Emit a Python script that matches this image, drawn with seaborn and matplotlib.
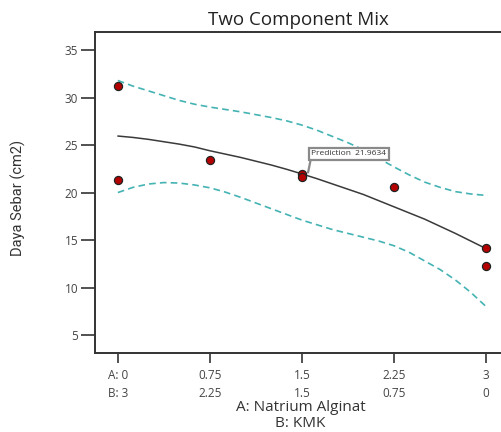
import matplotlib
matplotlib.use("Agg")
import matplotlib.pyplot as plt
import seaborn as sns
import pandas as pd

# ---- data ----
obs_a = [0, 0, 0.75, 1.5, 1.5, 2.25, 3, 3]
obs_y = [31.2, 21.3, 23.4, 22.0, 21.6, 20.6, 14.2, 12.3]

curve_a = [0, 0.125, 0.25, 0.375, 0.5, 0.625, 0.75, 0.875, 1.0, 1.125, 1.25, 1.375,
           1.5, 1.625, 1.75, 1.875, 2.0, 2.125, 2.25, 2.375, 2.5, 2.625, 2.75, 2.875, 3.0]
fit_y = [25.95, 25.8, 25.6, 25.35, 25.1, 24.8, 24.4, 24.05, 23.7, 23.3, 22.9, 22.45,
         21.96, 21.45, 20.9, 20.35, 19.8, 19.15, 18.5, 17.85, 17.2, 16.45, 15.7, 14.9, 14.1]
upper_y = [31.8, 31.2, 30.7, 30.2, 29.7, 29.3, 29.0, 28.75, 28.5, 28.2, 27.9, 27.55,
           27.1, 26.55, 25.9, 25.25, 24.5, 23.6, 22.7, 21.85, 21.1, 20.55, 20.1, 19.85, 19.7]
lower_y = [20.0, 20.55, 20.9, 21.05, 21.0, 20.8, 20.5, 20.05, 19.5, 18.9, 18.3, 17.7,
           17.1, 16.6, 16.1, 15.7, 15.3, 14.9, 14.4, 13.7, 12.8, 11.9, 10.8, 9.5, 8.0]

tick_a = [0, 0.75, 1.5, 2.25, 3]
tick_labels = ["A: 0\nB: 3", "0.75\n2.25", "1.5\n1.5", "2.25\n0.75", "3\n0"]
y_ticks = [5, 10, 15, 20, 25, 30, 35]
pred_x = 1.5
pred_value = 21.9634

sns.set_style("ticks")
plt.rcParams["font.family"] = ["Open Sans", "DejaVu Sans"]

fig = plt.figure(figsize=(5.02, 4.32), dpi=100)
ax = fig.add_axes([0.189, 0.182, 0.811, 0.743])

curves = pd.DataFrame({"a": curve_a, "fit": fit_y, "upper": upper_y, "lower": lower_y})
obs = pd.DataFrame({"a": obs_a, "y": obs_y})

teal = "#45b3b3"
sns.lineplot(data=curves, x="a", y="upper", ax=ax, color=teal, lw=1.2,
             linestyle=(0, (4, 2.5)))
sns.lineplot(data=curves, x="a", y="lower", ax=ax, color=teal, lw=1.2,
             linestyle=(0, (4, 2.5)))
sns.lineplot(data=curves, x="a", y="fit", ax=ax, color="#3a3a3a", lw=1.1)
sns.scatterplot(data=obs, x="a", y="y", ax=ax, color="#b50000", edgecolor="#222222",
                linewidth=0.9, s=34, marker="o", zorder=5)

# prediction flag
ax.annotate(f"Prediction  {pred_value}", xy=(pred_x + 0.05, pred_value + 0.15),
            xytext=(pred_x + 0.075, pred_value + 1.75),
            fontsize=6, color="#333333", va="bottom", ha="left",
            bbox=dict(boxstyle="square,pad=0.3", fc="white", ec="#8a8a8a", lw=1.6),
            arrowprops=dict(arrowstyle="-", color="#8a8a8a", lw=1.6,
                            shrinkA=0, shrinkB=0, relpos=(0, 0)),
            zorder=6)

ax.set_xlim(-0.187, 3.13)
ax.set_ylim(3.07, 36.86)
ax.set_xticks(tick_a)
ax.set_xticklabels(tick_labels, fontsize=8.5, color="#444444", linespacing=1.55)
ax.set_yticks(y_ticks)
ax.set_yticklabels([str(v) for v in y_ticks], fontsize=8.5, color="#444444")
ax.tick_params(axis="y", length=10, width=1.2, color="#333333", pad=2)
ax.tick_params(axis="x", length=7, width=1.2, color="#333333", pad=4)

for side in ["left", "bottom", "top"]:
    ax.spines[side].set_linewidth(1.4)
    ax.spines[side].set_color("#333333")
ax.spines["right"].set_visible(False)

ax.set_xlabel("A: Natrium Alginat\nB: KMK", fontsize=11, color="#333333",
              linespacing=1.08)
ax.xaxis.set_label_coords(0.505, -0.146)
ax.set_ylabel("Daya Sebar (cm2)", fontsize=10.5, color="#333333",
              family=["Liberation Sans Narrow", "Roboto", "DejaVu Sans"])
ax.yaxis.set_label_coords(-0.17, 0.483)
ax.set_title("Two Component Mix", fontsize=13.5, color="#222222", pad=5)

fig.savefig("out.png", dpi=100)
